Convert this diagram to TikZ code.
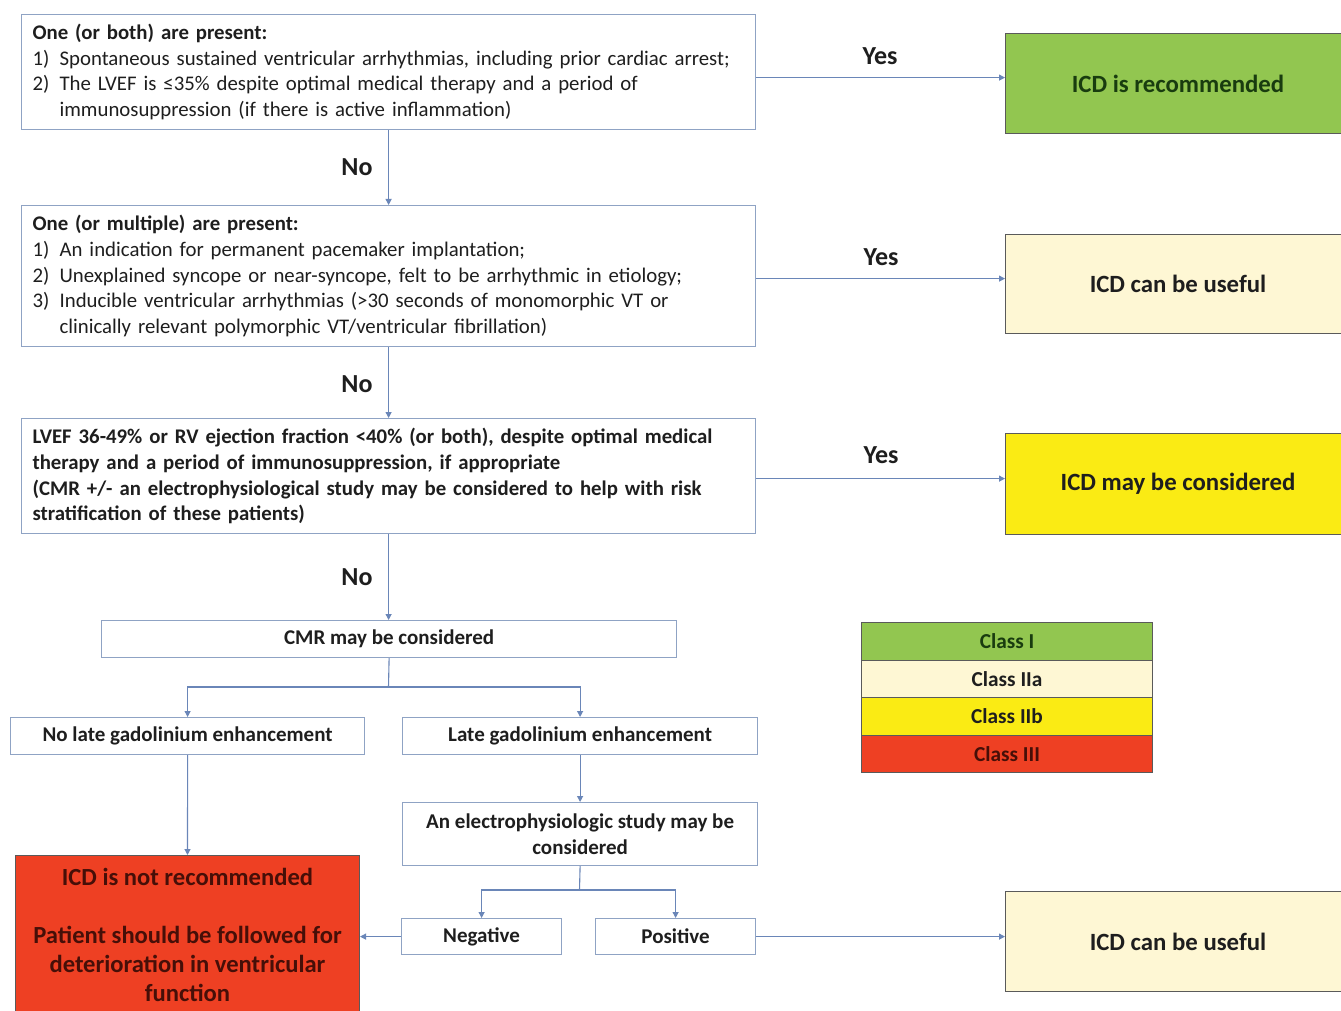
\documentclass[tikz,border=0pt]{standalone}
\usepackage{fontspec}
\setmainfont{Carlito}
\usetikzlibrary{arrows.meta}
\definecolor{bordc}{RGB}{143,163,196}
\definecolor{linec}{RGB}{106,134,184}
\definecolor{darkb}{RGB}{90,90,90}
\definecolor{cgreen}{RGB}{146,198,80}
\definecolor{ccream}{RGB}{254,247,212}
\definecolor{cyellow}{RGB}{250,235,20}
\definecolor{cred}{RGB}{238,64,35}
\definecolor{txtdark}{RGB}{30,30,30}
\definecolor{txtgreen}{RGB}{25,60,15}
\definecolor{txtred}{RGB}{70,15,8}
\newcommand{\itemnum}[1]{\makebox[27pt][l]{#1)}}
\newcommand{\contind}{\hspace*{27pt}}
\begin{document}
\begin{tikzpicture}[x=1pt,y=-1pt,
  flow/.style={draw=bordc, line width=1.2pt, fill=white, inner ysep=0pt, inner xsep=11pt, anchor=north west, text=txtdark},
  body/.style={font=\fontsize{20.8}{25.7}\selectfont},
  bbody/.style={font=\fontsize{20.8}{25.7}\selectfont\bfseries},
  sbody/.style={font=\fontsize{21}{26}\selectfont\bfseries},
  lbl/.style={font=\fontsize{26}{28}\selectfont\bfseries, text=txtdark},
  arr/.style={draw=linec, line width=1.1pt, -{Triangle[length=6pt,width=6pt]}},
  outc/.style={draw=darkb, line width=1pt, anchor=north west, inner sep=0pt, font=\fontsize{24.8}{28}\selectfont\bfseries, text=txtdark},
  legc/.style={draw=darkb, line width=1pt, anchor=north west, inner sep=0pt, minimum width=291pt, minimum height=37.5pt, font=\fontsize{21.3}{24}\selectfont\bfseries, text=txtdark}
]
\useasboundingbox (0,0) rectangle (1341,1011);
\clip (0,0) rectangle (1341,1011);
\fill[white] (0,0) rectangle (1341,1011);

% main decision boxes
\node[flow, body, text width=712pt, minimum height=115pt, align=left] (b1) at (21,14) {%
\textbf{One (or both) are present:}\par
\itemnum{1}Spontaneous sustained ventricular arrhythmias, including prior cardiac arrest;\par
\itemnum{2}The LVEF is ≤35\% despite optimal medical therapy and a period of\par
\contind immunosuppression (if there is active inflammation)\par};

\node[flow, body, text width=712pt, minimum height=141pt, align=left] (b2) at (21,205) {%
\textbf{One (or multiple) are present:}\par
\itemnum{1}An indication for permanent pacemaker implantation;\par
\itemnum{2}Unexplained syncope or near-syncope, felt to be arrhythmic in etiology;\par
\itemnum{3}Inducible ventricular arrhythmias (>30 seconds of monomorphic VT or\par
\contind clinically relevant polymorphic VT/ventricular fibrillation)\par};

\node[flow, bbody, text width=712pt, minimum height=115pt, align=left] (b3) at (21,418) {%
LVEF 36-49\% or RV ejection fraction <40\% (or both), despite optimal medical\par
therapy and a period of immunosuppression, if appropriate\par
(CMR +/- an electrophysiological study may be considered to help with risk\par
stratification of these patients)};

% outcome boxes
\node[outc, fill=cgreen, minimum width=345pt, minimum height=100pt, text=txtgreen] (r1) at (1005,33) {ICD is recommended};
\node[outc, fill=ccream, minimum width=345pt, minimum height=99pt] (r2) at (1005,234) {ICD can be useful};
\node[outc, fill=cyellow, minimum width=345pt, minimum height=101pt] (r3) at (1005,433) {ICD may be considered};
\node[outc, fill=ccream, minimum width=345pt, minimum height=100pt] (r4) at (1005,891) {ICD can be useful};

% lower flow
\node[flow, sbody, minimum width=575pt, minimum height=37pt, inner xsep=0pt] (cmr) at (101,620) {CMR may be considered};
\node[flow, sbody, minimum width=354pt, minimum height=37pt, inner xsep=0pt] (nolge) at (10,717) {No late gadolinium enhancement};
\node[flow, sbody, minimum width=355pt, minimum height=37pt, inner xsep=0pt] (lge) at (402,717) {Late gadolinium enhancement};
\node[flow, sbody, minimum width=355pt, minimum height=63pt, inner xsep=0pt, align=center] (ep) at (402,802) {An electrophysiologic study may be\\considered};
\node[flow, sbody, minimum width=160pt, minimum height=36pt, inner xsep=0pt] (neg) at (401,918) {Negative};
\node[flow, sbody, minimum width=160pt, minimum height=36pt, inner xsep=0pt] (pos) at (595,918) {Positive};

\node[outc, fill=cred, minimum width=344pt, minimum height=159pt, align=center, text=txtred, font=\fontsize{24.6}{29}\selectfont\bfseries] (red) at (15,855) {ICD is not recommended\\[29pt]Patient should be followed for\\deterioration in ventricular\\function};

% legend
\node[legc, fill=cgreen, text=txtgreen] (l1) at (861,622) {Class I};
\node[legc, fill=ccream] (l2) at (861,659.5) {Class IIa};
\node[legc, fill=cyellow] (l3) at (861,697) {Class IIb};
\node[legc, fill=cred, text=txtred] (l4) at (861,734.5) {Class III};

% labels
\node[lbl] (y1) at (880,56) {Yes};
\node[lbl] (y2) at (881,257) {Yes};
\node[lbl] (y3) at (881,455) {Yes};
\node[lbl] (n1) at (357,167) {No};
\node[lbl] (n2) at (357,384) {No};
\node[lbl] (n3) at (357,577) {No};

% connectors
\draw[arr] ([yshift=-5.5pt]b1.east) -- ([yshift=-5.5pt]b1.east -| r1.west);
\draw[arr] ([yshift=-2.5pt]b2.east) -- ([yshift=-2.5pt]b2.east -| r2.west);
\draw[arr] ([yshift=-2.5pt]b3.east) -- ([yshift=-2.5pt]b3.east -| r3.west);
\draw[arr] (b1.south) -- (b2.north);
\draw[arr] (b2.south) -- (b3.north);
\draw[arr] (b3.south) -- (b3.south |- cmr.north);
\coordinate (s1) at (388.5,687);
\draw[draw=linec, line width=1.1pt] (cmr.south) -- (s1);
\draw[arr] (s1) -| (nolge.north);
\draw[arr] (s1) -| (lge.north);
\draw[arr] (lge.south) -- (ep.north);
\coordinate (s2) at (579.5,890);
\draw[draw=linec, line width=1.1pt] (ep.south) -- (s2);
\draw[arr] (s2) -| (neg.north);
\draw[arr] (s2) -| (pos.north);
\draw[arr] (nolge.south) -- (red.north);
\draw[arr] (neg.west) -- (neg.west -| red.east);
\draw[arr] (pos.east) -- (pos.east -| r4.west);
\end{tikzpicture}
\end{document}
